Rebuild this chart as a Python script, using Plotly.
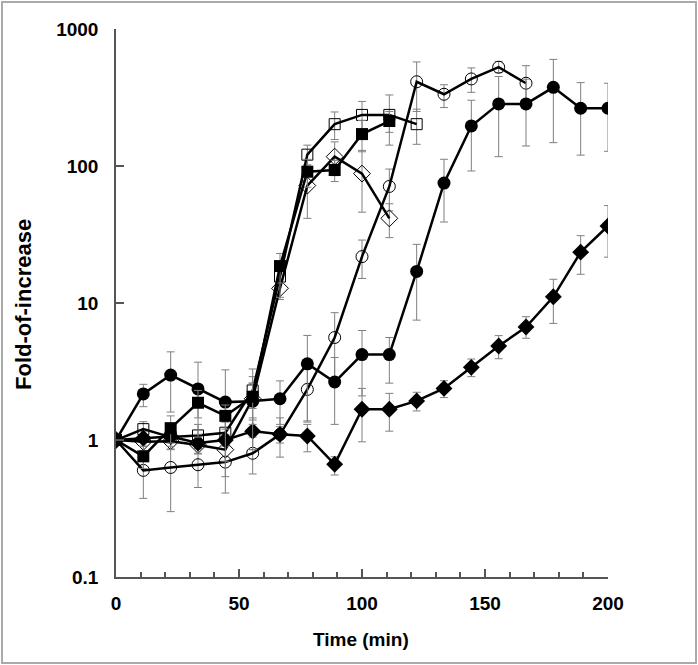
import plotly.graph_objects as go

# ---------------- data ----------------
# sample times (min) of each series; they are drawn on a hidden time axis that
# spans the same width as the printed 0-200 axis (as in the reference figure)
t_fc = [0, 10, 20, 30, 40, 50, 60, 70, 80, 90, 100, 110, 120, 130, 140, 150, 160, 170, 180]
t_fd = [0, 10, 20, 30, 40, 50, 60, 70, 80, 90, 100, 110, 120, 130, 140, 150, 160, 170, 180]
t_fs = [0, 10, 20, 30, 40, 50, 60, 70, 80, 90, 100]
t_os = [0, 10, 20, 30, 40, 50, 60, 70, 80, 90, 100, 110]
t_od = [0, 10, 20, 30, 40, 50, 60, 70, 80, 90, 100]
t_oc = [0, 10, 20, 30, 40, 50, 60, 70, 80, 90, 100, 110, 120, 130, 140, 150]

# filled circles
fc_y = [1, 2.17, 2.98, 2.36, 1.89, 1.92, 2.0, 3.6, 2.65, 4.2, 4.2, 17, 75, 196, 284, 284, 375, 264, 264]
fc_hi = [1, 2.55, 4.4, 3.7, 3.25, 2.6, 2.7, 5.8, 4.0, 6.3, 5.6, 26.8, 112, 302, 450, 430, 600, 406, 402]
fc_lo = [1, 1.75, 1.6, 1.05, 0.54, 1.3, 1.3, 1.35, 1.3, 2.1, 2.6, 7.5, 39, 92, 117, 140, 148, 120, 128]

# filled diamonds
fd_y = [1, 1.03, 1.06, 0.95, 1.0, 1.16, 1.1, 1.07, 0.665, 1.675, 1.675, 1.93, 2.38, 3.39, 4.85, 6.68, 11.1, 23.5, 36.5]
fd_hi = [1, 1.15, 1.2, 1.1, 1.1, 1.45, 1.25, 1.3, 0.755, 2.38, 2.19, 2.23, 2.71, 3.9, 5.78, 7.94, 14.9, 31, 51.4]
fd_lo = [1, 0.9, 0.9, 0.8, 0.9, 0.85, 0.95, 0.82, 0.555, 0.97, 1.16, 1.63, 2.04, 2.9, 3.92, 5.53, 7.1, 16.2, 21.6]

# filled squares
fs_y = [1, 0.76, 1.22, 1.87, 1.5, 2.07, 18.6, 90.8, 93.5, 171, 213]
fs_hi = [1, 0.9, 1.5, 2.3, 1.8, 3.3, 23, 112, 110, 215, 250]
fs_lo = [1, 0.62, 0.95, 1.45, 1.2, 0.85, 14, 70, 77, 127, 176]

# open squares
os_y = [1, 1.2, 1.05, 1.08, 1.13, 2.3, 15.6, 121, 202, 236, 236, 202]
os_hi = [1, 1.36, 1.25, 1.3, 1.35, 2.9, 20, 142, 248, 296, 330, 260]
os_lo = [1, 1.04, 0.85, 0.86, 0.91, 1.7, 11, 100, 156, 176, 142, 144]

# open diamonds
od_y = [1, 0.97, 0.98, 0.92, 0.85, 2.0, 12.8, 72, 117, 88, 41.5]
od_hi = [1, 1.1, 1.1, 1.05, 1.0, 2.6, 15, 102, 150, 130, 53]
od_lo = [1, 0.84, 0.86, 0.79, 0.7, 1.4, 10.6, 41.5, 85, 46, 30]

# open circles
oc_y = [1, 0.60, 0.63, 0.66, 0.69, 0.80, 1.1, 2.34, 5.6, 21.8, 70.9, 412, 334, 432, 526, 402]
oc_hi = [1, 0.82, 0.96, 0.87, 0.97, 1.05, 1.45, 3.3, 8.5, 28.8, 95, 575, 392, 520, 580, 540]
oc_lo = [1, 0.375, 0.30, 0.45, 0.41, 0.565, 0.75, 1.38, 2.7, 15.1, 47, 250, 267, 345, 480, 265]

x_ticks = [0, 50, 100, 150, 200]
y_ticks = [0.1, 1, 10, 100, 1000]
y_tick_text = ["0.1", "1", "10", "100", "1000"]

# ---------------- figure ----------------
W, H = 698, 665
ML, MR, MT, MB = 116, 90, 29, 88
PW, PH = W - ML - MR, H - MT - MB

LINE = "black"
ERR = "#808080"
AX = "#555555"
FONT = "Liberation Sans, Arial, sans-serif"


def err(y, hi, lo):
    return dict(type="data", symmetric=False,
                array=[h - v for h, v in zip(hi, y)],
                arrayminus=[v - l for v, l in zip(y, lo)],
                color=ERR, thickness=1, width=4)


series = [
    (t_oc, oc_y, oc_hi, oc_lo, "circle-open", 12, 1),
    (t_od, od_y, od_hi, od_lo, "diamond-open", 13, 1),
    (t_os, os_y, os_hi, os_lo, "square-open", 11, 1),
    (t_fd, fd_y, fd_hi, fd_lo, "diamond", 13, 0),
    (t_fc, fc_y, fc_hi, fc_lo, "circle", 13, 0),
    (t_fs, fs_y, fs_hi, fs_lo, "square", 12, 0),
]

fig = go.Figure()
# empty trace so the printed 0-200 time axis is drawn
fig.add_trace(go.Scatter(x=[None], y=[None], xaxis="x", yaxis="y",
                         mode="markers", showlegend=False, hoverinfo="skip"))
for t, y, hi, lo, sym, size, mlw in series:
    fig.add_trace(go.Scatter(
        x=t, y=y, xaxis="x2", yaxis="y",
        mode="lines+markers",
        line=dict(color=LINE, width=2.5),
        marker=dict(symbol=sym, size=size, color="black",
                    line=dict(color="#333333", width=mlw)),
        error_y=err(y, hi, lo),
        showlegend=False,
    ))

tickf = dict(family=FONT, size=19, color="black", weight="bold")

fig.update_layout(
    width=W, height=H,
    margin=dict(l=ML, r=MR, t=MT, b=MB),
    paper_bgcolor="white", plot_bgcolor="white",
    xaxis=dict(range=[0, 200], tickvals=x_ticks, showgrid=False, zeroline=False,
               showline=True, linecolor=AX, linewidth=1.5,
               ticks="inside", ticklen=8, tickwidth=1.5, tickcolor=AX,
               minor=dict(ticks="inside", dtick=10, ticklen=5, tickwidth=1.5, tickcolor=AX),
               tickfont=tickf, ticklabelstandoff=8),
    xaxis2=dict(range=[0, 180], overlaying="x", visible=False),
    yaxis=dict(type="log", range=[-1, 3], tickvals=y_ticks, ticktext=y_tick_text,
               showgrid=False, zeroline=False, showline=True,
               linecolor=AX, linewidth=1.5,
               ticks="inside", ticklen=8, tickwidth=1.5, tickcolor=AX,
               tickfont=tickf, ticklabelstandoff=12),
    annotations=[
        dict(text="Time (min)", xref="paper", yref="paper",
             x=(361 - ML) / PW, y=(PH + MT - 639) / PH,
             xanchor="center", yanchor="middle", showarrow=False,
             font=dict(family=FONT, size=19, color="black", weight="bold")),
        dict(text="Fold-of-increase", xref="paper", yref="paper",
             x=(24 - ML) / PW, y=(PH + MT - 305) / PH, textangle=-90,
             xanchor="center", yanchor="middle", showarrow=False,
             font=dict(family=FONT, size=22, color="black", weight="bold")),
    ],
    shapes=[dict(type="rect", xref="paper", yref="paper",
                 x0=(2 - ML) / PW, x1=(W - 2 - ML) / PW,
                 y0=(PH + MT - (H - 2)) / PH, y1=(PH + MT - 2) / PH,
                 line=dict(color="#aaaaaa", width=2), layer="below")],
)

fig.write_html("out.html", config={"displayModeBar": False},
               post_script="document.body.style.margin='0';")
